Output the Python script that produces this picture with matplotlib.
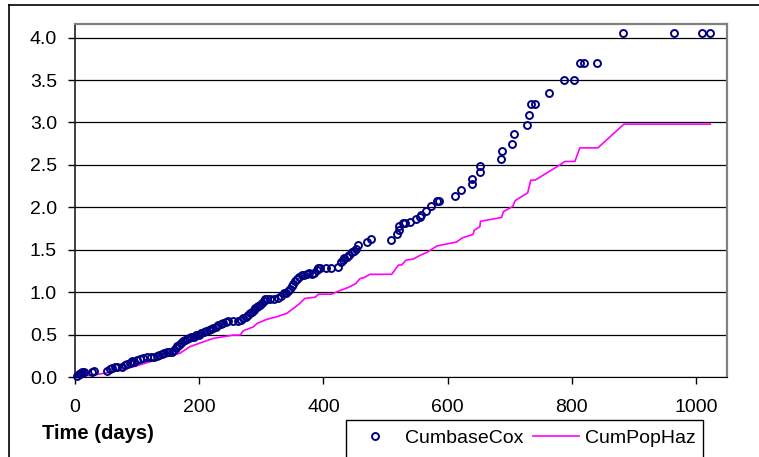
import matplotlib.pyplot as plt
from matplotlib.lines import Line2D
from matplotlib.patches import Rectangle

plt.rcParams['font.family'] = ['Liberation Sans', 'DejaVu Sans']

# CumbaseCox points (days, cumulative hazard)
cox_t = [3, 6, 8, 10, 12, 14, 27, 30,
         51, 56, 60, 64, 68, 75, 80, 84, 88, 91, 95, 100, 105, 110, 116, 123,
         128, 132, 136, 140, 144, 148, 152, 156, 159, 162, 165, 168, 171, 174,
         177, 180, 183, 187, 191, 195, 199, 203, 207, 211, 215, 219, 223, 227,
         231, 235, 239, 243, 247, 255, 263, 267, 271, 275, 279, 282, 285, 288,
         290, 293, 295, 298, 301, 304, 306, 310, 314, 320, 327, 331, 336, 340,
         343, 346, 349, 351, 354, 357, 361, 365, 369, 373, 377, 381, 385, 389,
         392, 395, 405, 412, 424, 428, 431, 434, 438, 442, 446, 450, 453, 456,
         470, 477,
         509, 518, 521, 522, 529, 532, 540, 549, 555, 558, 565, 574, 583, 587,
         612, 622, 640, 640, 652, 652, 686, 688, 703, 707, 728, 731, 734, 740,
         764, 788, 803, 813, 819, 840, 882, 964, 1009, 1022]
cox_h = [0.015, 0.03, 0.04, 0.05, 0.055, 0.06, 0.06, 0.065,
         0.07, 0.09, 0.11, 0.12, 0.12, 0.12, 0.14, 0.155, 0.17, 0.19, 0.18, 0.2,
         0.21, 0.22, 0.23, 0.23, 0.24, 0.25, 0.26, 0.27, 0.28, 0.29, 0.29, 0.3,
         0.32, 0.34, 0.36, 0.38, 0.4, 0.42, 0.435, 0.45, 0.455, 0.47, 0.475,
         0.49, 0.5, 0.52, 0.535, 0.545, 0.555, 0.565, 0.575, 0.59, 0.61, 0.625,
         0.64, 0.65, 0.66, 0.66, 0.66, 0.675, 0.69, 0.71, 0.73, 0.75, 0.77,
         0.79, 0.81, 0.825, 0.835, 0.85, 0.87, 0.89, 0.915, 0.915, 0.915, 0.915,
         0.935, 0.96, 0.985, 0.99, 1.01, 1.04, 1.07, 1.10, 1.13, 1.16, 1.18,
         1.20, 1.20, 1.21, 1.22, 1.21, 1.23, 1.26, 1.28, 1.29, 1.28, 1.28, 1.30,
         1.35, 1.38, 1.40, 1.41, 1.44, 1.47, 1.49, 1.51, 1.55, 1.59, 1.63,
         1.62, 1.68, 1.73, 1.776, 1.81, 1.81, 1.83, 1.86, 1.89, 1.906, 1.957,
         2.02, 2.07, 2.07, 2.13, 2.20, 2.27, 2.33, 2.42, 2.49, 2.57, 2.66, 2.75,
         2.86, 2.97, 3.09, 3.215, 3.215, 3.35, 3.50, 3.50, 3.70, 3.70, 3.70,
         4.055, 4.055, 4.055, 4.055]

# CumPopHaz line
pop_t = [3, 40, 62, 94, 121, 148, 169, 185, 201, 223, 255, 266, 271, 287, 293,
         309, 325, 341, 352, 362, 370, 387, 392, 413, 427, 440, 452, 459, 465,
         475, 510, 518, 521, 526, 533, 545, 556, 567, 583, 614, 624, 641, 643,
         652, 653, 687, 690, 705, 709, 729, 734, 741, 781, 789, 805, 813, 842,
         884, 1023]
pop_h = [0.0, 0.035, 0.063, 0.12, 0.18, 0.24, 0.28, 0.357, 0.40, 0.455, 0.494,
         0.494, 0.545, 0.59, 0.63, 0.68, 0.71, 0.75, 0.81, 0.867, 0.926, 0.94,
         0.976, 0.976, 1.02, 1.055, 1.10, 1.16, 1.17, 1.21, 1.21, 1.29, 1.32,
         1.32, 1.376, 1.39, 1.435, 1.47, 1.545, 1.59, 1.64, 1.68, 1.73, 1.77,
         1.835, 1.88, 1.95, 2.01, 2.08, 2.17, 2.32, 2.32, 2.50, 2.54, 2.54,
         2.70, 2.70, 2.98, 2.98]

x_ticks = [0, 200, 400, 600, 800, 1000]
y_ticks = [0.0, 0.5, 1.0, 1.5, 2.0, 2.5, 3.0, 3.5, 4.0]

W, H = 759, 457
fig = plt.figure(figsize=(W / 100, H / 100), dpi=100)
ax = fig.add_axes([75 / W, 1 - 377 / H, (727 - 75) / W, (377 - 24) / H])

ax.plot(cox_t, cox_h, 'o', mfc='none', mec='#000080', ms=5, mew=1.4,
        clip_on=False, zorder=4, label='CumbaseCox')
ax.plot(pop_t, pop_h, '-', color='#FF00FF', lw=1.2, zorder=3, label='CumPopHaz')

ax.set_xlim(0, 1050)
ax.set_ylim(0, 4.16)
ax.set_xticks(x_ticks)
ax.set_yticks(y_ticks)
ax.set_yticklabels([f'{v:.1f}' for v in y_ticks])
ax.yaxis.grid(True, color='black', lw=0.9)
ax.set_axisbelow(True)
ax.tick_params(axis='both', labelsize=14, direction='out', length=5,
               width=1, color='black')
ax.tick_params(axis='y', pad=8)
ax.tick_params(axis='x', pad=11)

ax.spines['top'].set_color('#808080')
ax.spines['right'].set_color('#808080')
ax.spines['top'].set_linewidth(1.6)
ax.spines['right'].set_linewidth(1.6)
ax.spines['left'].set_color('#202020')
ax.spines['left'].set_linewidth(1.2)
ax.spines['bottom'].set_color('black')

fig.text(42 / W, 1 - 439 / H, 'Time (days)', fontsize=14.5, fontweight='bold',
         va='baseline', ha='left')

# outer chart frame (runs past right and bottom edges)
fig.add_artist(Line2D([9 / W, 1.01], [1 - 5 / H, 1 - 5 / H], color='black', lw=1.2))
fig.add_artist(Line2D([9 / W, 9 / W], [1 - 5 / H, -0.01], color='black', lw=1.2))

# legend box
fig.add_artist(Rectangle((346 / W, -0.05), (703 - 346) / W, 0.05 + (457 - 420) / H,
                         fill=False, edgecolor='black', lw=1, transform=fig.transFigure))
fig.legend(loc='center left', bbox_to_anchor=(352 / W, 1 - 438 / H), ncol=2,
           frameon=False, fontsize=14, borderpad=0, borderaxespad=0,
           handlelength=2.4, handletextpad=0.3, columnspacing=0.5)

fig.savefig('out.png', dpi=100)
